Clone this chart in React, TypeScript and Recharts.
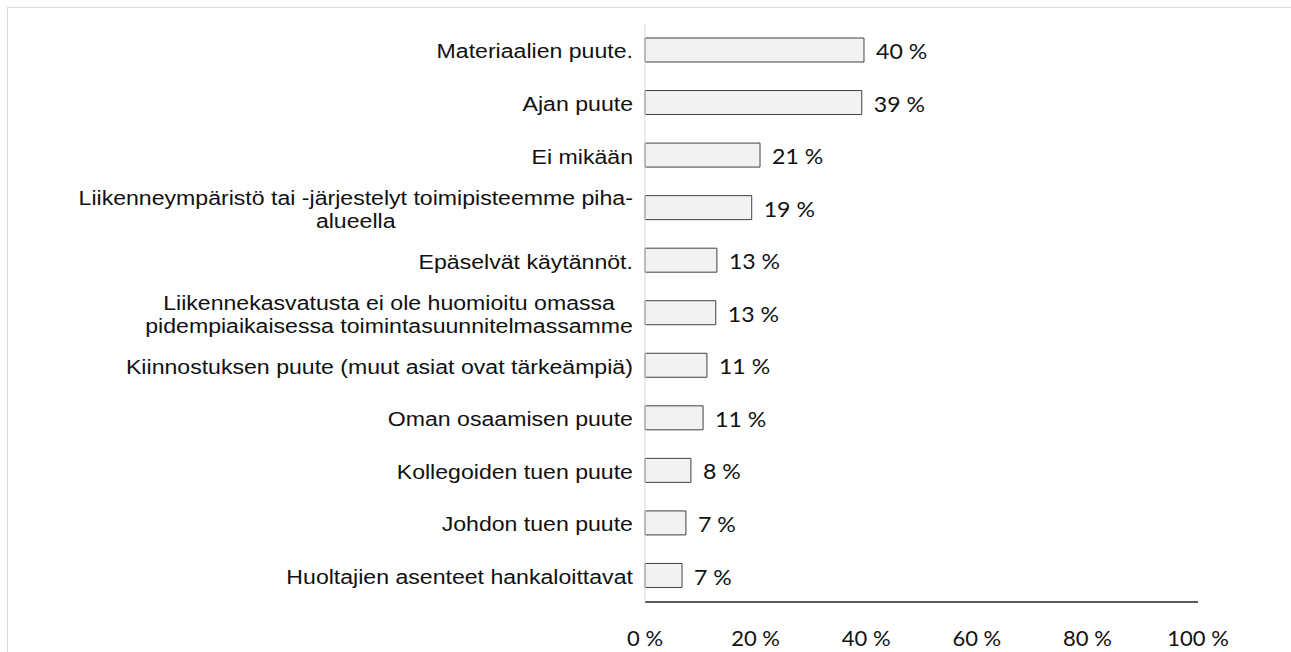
import { BarChart, Bar, XAxis, YAxis, LabelList } from "recharts";

const categories = [
  "Materiaalien puute.",
  "Ajan puute",
  "Ei mikään",
  "Liikenneympäristö tai -järjestelyt toimipisteemme piha-\nalueella",
  "Epäselvät käytännöt.",
  "Liikennekasvatusta ei ole huomioitu omassa\npidempiaikaisessa toimintasuunnitelmassamme",
  "Kiinnostuksen puute (muut asiat ovat tärkeämpiä)",
  "Oman osaamisen puute",
  "Kollegoiden tuen puute",
  "Johdon tuen puute",
  "Huoltajien asenteet hankaloittavat",
];

const shares = [39.6, 39.2, 20.8, 19.3, 13.0, 12.8, 11.2, 10.5, 8.3, 7.4, 6.7];

const xTicks = [0, 20, 40, 60, 80, 100];

const data = categories.map((name, i) => ({ name, value: shares[i] }));

// the source picture is a bit stretched sideways, so text gets a scaleX
const labelFont = "21px 'Liberation Sans', Arial, sans-serif";
const labelStretch = 1.1;
const numFont = "Lato, 'Open Sans', sans-serif";

let ctx: CanvasRenderingContext2D | null = null;
const measure = (s: string) => {
  if (!ctx) ctx = document.createElement("canvas").getContext("2d");
  if (!ctx) return s.length * 10;
  ctx.font = labelFont;
  return ctx.measureText(s).width;
};

const CategoryTick = ({ x, y, payload }: any) => {
  const lines = String(payload.value).split("\n");
  const w = Math.max(...lines.map(measure));
  const lh = 23;
  const startY = 1 - ((lines.length - 1) * lh) / 2;
  return (
    <g transform={`translate(${x},${y}) scale(${labelStretch},1)`}>
      <text textAnchor="middle" fill="#111" style={{ font: labelFont }}>
        {lines.map((l, i) => (
          <tspan key={i} x={-w / 2} y={startY + i * lh} dominantBaseline="central">
            {l}
          </tspan>
        ))}
      </text>
    </g>
  );
};

const PercentTick = ({ x, y, payload }: any) => (
  <text x={x} y={y + 27} textAnchor="middle" dominantBaseline="central" fill="#111" fontFamily={numFont} fontSize={22}>
    {payload.value} %
  </text>
);

const ValueLabel = ({ x, y, width, height, value }: any) => (
  <g transform={`translate(${x + width + 12},${y + height / 2 + 1}) scale(1.1,1)`}>
    <text dominantBaseline="central" fill="#111" fontFamily={numFont} fontSize={21}>
      {Math.round(value)} %
    </text>
  </g>
);

export default function App() {
  return (
    <div
      style={{
        position: "absolute",
        left: 7,
        top: 7,
        width: 1284,
        height: 645,
        boxSizing: "border-box",
        borderTop: "1px solid #d9d9d9",
        borderLeft: "1px solid #d9d9d9",
        background: "#fff",
      }}
    >
      <BarChart
        width={1283}
        height={644}
        data={data}
        layout="vertical"
        margin={{ top: 16, right: 93, bottom: 0, left: 0 }}
      >
        <XAxis
          type="number"
          domain={[0, 100]}
          ticks={xTicks}
          interval={0}
          tickLine={false}
          tickSize={0}
          tickMargin={8}
          height={50}
          axisLine={{ stroke: "#262626", strokeWidth: 1.5 }}
          tick={<PercentTick />}
        />
        <YAxis
          type="category"
          dataKey="name"
          width={637}
          interval={0}
          tickLine={false}
          tickSize={0}
          tickMargin={12}
          axisLine={{ stroke: "#d9d9d9" }}
          tick={<CategoryTick />}
        />
        <Bar dataKey="value" barSize={24} fill="#f2f2f2" stroke="#404040" strokeWidth={1} isAnimationActive={false}>
          <LabelList dataKey="value" content={<ValueLabel />} />
        </Bar>
      </BarChart>
    </div>
  );
}
